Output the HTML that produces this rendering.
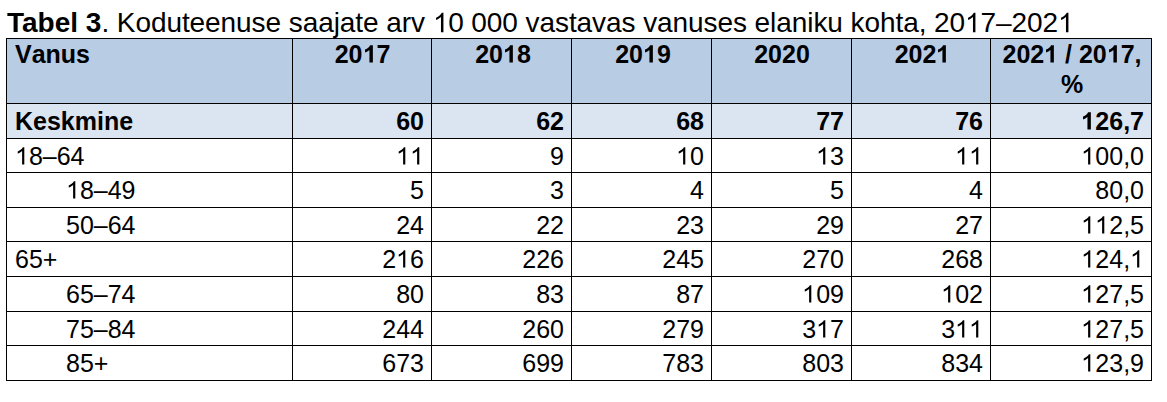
<!DOCTYPE html>
<html><head><meta charset="utf-8"><style>
html,body{margin:0;padding:0;background:#fff;width:1167px;height:402px;overflow:hidden;position:relative}
body{font-family:"Liberation Sans",sans-serif;color:#000}
.nk{font-kerning:none}
.t{position:absolute;white-space:nowrap;line-height:2em;height:2em}
.t span{display:inline-block;vertical-align:baseline}
.bg{position:absolute}
.h{position:absolute;height:1px;background:#000}
.v{position:absolute;width:1px;background:#000}
.b{font-weight:bold}
.one{width:0.55615em;height:1.1172em;vertical-align:-0.2119em;fill:#000;overflow:visible}
</style></head><body>

<div class="bg" style="left:6px;top:38px;width:1145px;height:65px;background:#B8CCE4"></div>
<div class="bg" style="left:6px;top:103px;width:1145px;height:35px;background:#DBE5F1"></div>
<div class="t" style="left:7px;top:-5px;font-size:28px"><b>Tabel 3</b><span style="letter-spacing:-0.075px">. Koduteenuse saajate arv <svg class="one" viewBox="0 -1854 1139 2288"><path transform="scale(1 0.9715)" d="M763 0H583V-1147Q518 -1085 412 -1023Q306 -961 223 -930V-1104Q374 -1175 486 -1276Q598 -1377 647 -1472H763Z"/></svg>0 000 vastavas vanuses elaniku kohta, 20<svg class="one" viewBox="0 -1854 1139 2288"><path transform="scale(1 0.9715)" d="M763 0H583V-1147Q518 -1085 412 -1023Q306 -961 223 -930V-1104Q374 -1175 486 -1276Q598 -1377 647 -1472H763Z"/></svg>7–202<svg class="one" viewBox="0 -1854 1139 2288"><path transform="scale(1 0.9715)" d="M763 0H583V-1147Q518 -1085 412 -1023Q306 -961 223 -930V-1104Q374 -1175 486 -1276Q598 -1377 647 -1472H763Z"/></svg></span></div>
<div class="t b nk" style="left:15px;top:29px;font-size:25px">Vanus</div>
<div class="t b nk" style="left:62.5px;width:600px;text-align:center;top:29px;font-size:25px">20<svg class="one" viewBox="0 -1854 1139 2288"><path transform="scale(1 0.9715)" d="M809 0H528V-1059Q374 -915 165 -846V-1101Q275 -1137 404 -1238Q533 -1339 581 -1472H809Z"/></svg>7</div>
<div class="t b nk" style="left:203.0px;width:600px;text-align:center;top:29px;font-size:25px">20<svg class="one" viewBox="0 -1854 1139 2288"><path transform="scale(1 0.9715)" d="M809 0H528V-1059Q374 -915 165 -846V-1101Q275 -1137 404 -1238Q533 -1339 581 -1472H809Z"/></svg>8</div>
<div class="t b nk" style="left:343.0px;width:600px;text-align:center;top:29px;font-size:25px">20<svg class="one" viewBox="0 -1854 1139 2288"><path transform="scale(1 0.9715)" d="M809 0H528V-1059Q374 -915 165 -846V-1101Q275 -1137 404 -1238Q533 -1339 581 -1472H809Z"/></svg>9</div>
<div class="t b nk" style="left:482.0px;width:600px;text-align:center;top:29px;font-size:25px">2020</div>
<div class="t b nk" style="left:622.5px;width:600px;text-align:center;top:29px;font-size:25px">202<svg class="one" viewBox="0 -1854 1139 2288"><path transform="scale(1 0.9715)" d="M809 0H528V-1059Q374 -915 165 -846V-1101Q275 -1137 404 -1238Q533 -1339 581 -1472H809Z"/></svg></div>
<div class="t b nk" style="left:772.0px;width:600px;text-align:center;top:29px;font-size:25px">202<svg class="one" viewBox="0 -1854 1139 2288"><path transform="scale(1 0.9715)" d="M809 0H528V-1059Q374 -915 165 -846V-1101Q275 -1137 404 -1238Q533 -1339 581 -1472H809Z"/></svg> / 20<svg class="one" viewBox="0 -1854 1139 2288"><path transform="scale(1 0.9715)" d="M809 0H528V-1059Q374 -915 165 -846V-1101Q275 -1137 404 -1238Q533 -1339 581 -1472H809Z"/></svg>7,</div>
<div class="t b nk" style="left:772.0px;width:600px;text-align:center;top:59px;font-size:25px">%</div>
<div class="t b nk" style="left:15px;top:96px;font-size:25px">Keskmine</div>
<div class="t b nk" style="right:743px;top:96px;font-size:25px">60</div>
<div class="t b nk" style="right:603px;top:96px;font-size:25px">62</div>
<div class="t b nk" style="right:463px;top:96px;font-size:25px">68</div>
<div class="t b nk" style="right:323px;top:96px;font-size:25px">77</div>
<div class="t b nk" style="right:184px;top:96px;font-size:25px">76</div>
<div class="t b nk" style="right:23px;top:96px;font-size:25px"><svg class="one" viewBox="0 -1854 1139 2288"><path transform="scale(1 0.9715)" d="M809 0H528V-1059Q374 -915 165 -846V-1101Q275 -1137 404 -1238Q533 -1339 581 -1472H809Z"/></svg>26,7</div>
<div class="t nk" style="left:15px;top:131px;font-size:25px"><svg class="one" viewBox="0 -1854 1139 2288"><path transform="scale(1 0.9715)" d="M763 0H583V-1147Q518 -1085 412 -1023Q306 -961 223 -930V-1104Q374 -1175 486 -1276Q598 -1377 647 -1472H763Z"/></svg>8–64</div>
<div class="t nk" style="right:743px;top:131px;font-size:25px"><svg class="one" viewBox="0 -1854 1139 2288"><path transform="scale(1 0.9715)" d="M763 0H583V-1147Q518 -1085 412 -1023Q306 -961 223 -930V-1104Q374 -1175 486 -1276Q598 -1377 647 -1472H763Z"/></svg><svg class="one" viewBox="0 -1854 1139 2288"><path transform="scale(1 0.9715)" d="M763 0H583V-1147Q518 -1085 412 -1023Q306 -961 223 -930V-1104Q374 -1175 486 -1276Q598 -1377 647 -1472H763Z"/></svg></div>
<div class="t nk" style="right:603px;top:131px;font-size:25px">9</div>
<div class="t nk" style="right:463px;top:131px;font-size:25px"><svg class="one" viewBox="0 -1854 1139 2288"><path transform="scale(1 0.9715)" d="M763 0H583V-1147Q518 -1085 412 -1023Q306 -961 223 -930V-1104Q374 -1175 486 -1276Q598 -1377 647 -1472H763Z"/></svg>0</div>
<div class="t nk" style="right:323px;top:131px;font-size:25px"><svg class="one" viewBox="0 -1854 1139 2288"><path transform="scale(1 0.9715)" d="M763 0H583V-1147Q518 -1085 412 -1023Q306 -961 223 -930V-1104Q374 -1175 486 -1276Q598 -1377 647 -1472H763Z"/></svg>3</div>
<div class="t nk" style="right:184px;top:131px;font-size:25px"><svg class="one" viewBox="0 -1854 1139 2288"><path transform="scale(1 0.9715)" d="M763 0H583V-1147Q518 -1085 412 -1023Q306 -961 223 -930V-1104Q374 -1175 486 -1276Q598 -1377 647 -1472H763Z"/></svg><svg class="one" viewBox="0 -1854 1139 2288"><path transform="scale(1 0.9715)" d="M763 0H583V-1147Q518 -1085 412 -1023Q306 -961 223 -930V-1104Q374 -1175 486 -1276Q598 -1377 647 -1472H763Z"/></svg></div>
<div class="t nk" style="right:23px;top:131px;font-size:25px"><svg class="one" viewBox="0 -1854 1139 2288"><path transform="scale(1 0.9715)" d="M763 0H583V-1147Q518 -1085 412 -1023Q306 -961 223 -930V-1104Q374 -1175 486 -1276Q598 -1377 647 -1472H763Z"/></svg>00,0</div>
<div class="t nk" style="left:66px;top:165px;font-size:25px"><svg class="one" viewBox="0 -1854 1139 2288"><path transform="scale(1 0.9715)" d="M763 0H583V-1147Q518 -1085 412 -1023Q306 -961 223 -930V-1104Q374 -1175 486 -1276Q598 -1377 647 -1472H763Z"/></svg>8–49</div>
<div class="t nk" style="right:743px;top:165px;font-size:25px">5</div>
<div class="t nk" style="right:603px;top:165px;font-size:25px">3</div>
<div class="t nk" style="right:463px;top:165px;font-size:25px">4</div>
<div class="t nk" style="right:323px;top:165px;font-size:25px">5</div>
<div class="t nk" style="right:184px;top:165px;font-size:25px">4</div>
<div class="t nk" style="right:23px;top:165px;font-size:25px">80,0</div>
<div class="t nk" style="left:66px;top:200px;font-size:25px">50–64</div>
<div class="t nk" style="right:743px;top:200px;font-size:25px">24</div>
<div class="t nk" style="right:603px;top:200px;font-size:25px">22</div>
<div class="t nk" style="right:463px;top:200px;font-size:25px">23</div>
<div class="t nk" style="right:323px;top:200px;font-size:25px">29</div>
<div class="t nk" style="right:184px;top:200px;font-size:25px">27</div>
<div class="t nk" style="right:23px;top:200px;font-size:25px"><svg class="one" viewBox="0 -1854 1139 2288"><path transform="scale(1 0.9715)" d="M763 0H583V-1147Q518 -1085 412 -1023Q306 -961 223 -930V-1104Q374 -1175 486 -1276Q598 -1377 647 -1472H763Z"/></svg><svg class="one" viewBox="0 -1854 1139 2288"><path transform="scale(1 0.9715)" d="M763 0H583V-1147Q518 -1085 412 -1023Q306 -961 223 -930V-1104Q374 -1175 486 -1276Q598 -1377 647 -1472H763Z"/></svg>2,5</div>
<div class="t nk" style="left:15px;top:234px;font-size:25px">65+</div>
<div class="t nk" style="right:743px;top:234px;font-size:25px">2<svg class="one" viewBox="0 -1854 1139 2288"><path transform="scale(1 0.9715)" d="M763 0H583V-1147Q518 -1085 412 -1023Q306 -961 223 -930V-1104Q374 -1175 486 -1276Q598 -1377 647 -1472H763Z"/></svg>6</div>
<div class="t nk" style="right:603px;top:234px;font-size:25px">226</div>
<div class="t nk" style="right:463px;top:234px;font-size:25px">245</div>
<div class="t nk" style="right:323px;top:234px;font-size:25px">270</div>
<div class="t nk" style="right:184px;top:234px;font-size:25px">268</div>
<div class="t nk" style="right:23px;top:234px;font-size:25px"><svg class="one" viewBox="0 -1854 1139 2288"><path transform="scale(1 0.9715)" d="M763 0H583V-1147Q518 -1085 412 -1023Q306 -961 223 -930V-1104Q374 -1175 486 -1276Q598 -1377 647 -1472H763Z"/></svg>24,<svg class="one" viewBox="0 -1854 1139 2288"><path transform="scale(1 0.9715)" d="M763 0H583V-1147Q518 -1085 412 -1023Q306 -961 223 -930V-1104Q374 -1175 486 -1276Q598 -1377 647 -1472H763Z"/></svg></div>
<div class="t nk" style="left:66px;top:269px;font-size:25px">65–74</div>
<div class="t nk" style="right:743px;top:269px;font-size:25px">80</div>
<div class="t nk" style="right:603px;top:269px;font-size:25px">83</div>
<div class="t nk" style="right:463px;top:269px;font-size:25px">87</div>
<div class="t nk" style="right:323px;top:269px;font-size:25px"><svg class="one" viewBox="0 -1854 1139 2288"><path transform="scale(1 0.9715)" d="M763 0H583V-1147Q518 -1085 412 -1023Q306 -961 223 -930V-1104Q374 -1175 486 -1276Q598 -1377 647 -1472H763Z"/></svg>09</div>
<div class="t nk" style="right:184px;top:269px;font-size:25px"><svg class="one" viewBox="0 -1854 1139 2288"><path transform="scale(1 0.9715)" d="M763 0H583V-1147Q518 -1085 412 -1023Q306 -961 223 -930V-1104Q374 -1175 486 -1276Q598 -1377 647 -1472H763Z"/></svg>02</div>
<div class="t nk" style="right:23px;top:269px;font-size:25px"><svg class="one" viewBox="0 -1854 1139 2288"><path transform="scale(1 0.9715)" d="M763 0H583V-1147Q518 -1085 412 -1023Q306 -961 223 -930V-1104Q374 -1175 486 -1276Q598 -1377 647 -1472H763Z"/></svg>27,5</div>
<div class="t nk" style="left:66px;top:304px;font-size:25px">75–84</div>
<div class="t nk" style="right:743px;top:304px;font-size:25px">244</div>
<div class="t nk" style="right:603px;top:304px;font-size:25px">260</div>
<div class="t nk" style="right:463px;top:304px;font-size:25px">279</div>
<div class="t nk" style="right:323px;top:304px;font-size:25px">3<svg class="one" viewBox="0 -1854 1139 2288"><path transform="scale(1 0.9715)" d="M763 0H583V-1147Q518 -1085 412 -1023Q306 -961 223 -930V-1104Q374 -1175 486 -1276Q598 -1377 647 -1472H763Z"/></svg>7</div>
<div class="t nk" style="right:184px;top:304px;font-size:25px">3<svg class="one" viewBox="0 -1854 1139 2288"><path transform="scale(1 0.9715)" d="M763 0H583V-1147Q518 -1085 412 -1023Q306 -961 223 -930V-1104Q374 -1175 486 -1276Q598 -1377 647 -1472H763Z"/></svg><svg class="one" viewBox="0 -1854 1139 2288"><path transform="scale(1 0.9715)" d="M763 0H583V-1147Q518 -1085 412 -1023Q306 -961 223 -930V-1104Q374 -1175 486 -1276Q598 -1377 647 -1472H763Z"/></svg></div>
<div class="t nk" style="right:23px;top:304px;font-size:25px"><svg class="one" viewBox="0 -1854 1139 2288"><path transform="scale(1 0.9715)" d="M763 0H583V-1147Q518 -1085 412 -1023Q306 -961 223 -930V-1104Q374 -1175 486 -1276Q598 -1377 647 -1472H763Z"/></svg>27,5</div>
<div class="t nk" style="left:66px;top:338px;font-size:25px">85+</div>
<div class="t nk" style="right:743px;top:338px;font-size:25px">673</div>
<div class="t nk" style="right:603px;top:338px;font-size:25px">699</div>
<div class="t nk" style="right:463px;top:338px;font-size:25px">783</div>
<div class="t nk" style="right:323px;top:338px;font-size:25px">803</div>
<div class="t nk" style="right:184px;top:338px;font-size:25px">834</div>
<div class="t nk" style="right:23px;top:338px;font-size:25px"><svg class="one" viewBox="0 -1854 1139 2288"><path transform="scale(1 0.9715)" d="M763 0H583V-1147Q518 -1085 412 -1023Q306 -961 223 -930V-1104Q374 -1175 486 -1276Q598 -1377 647 -1472H763Z"/></svg>23,9</div>
<div class="h" style="left:6px;top:38px;width:1146px"></div>
<div class="h" style="left:6px;top:103px;width:1146px"></div>
<div class="h" style="left:6px;top:138px;width:1146px"></div>
<div class="h" style="left:6px;top:172px;width:1146px"></div>
<div class="h" style="left:6px;top:207px;width:1146px"></div>
<div class="h" style="left:6px;top:241px;width:1146px"></div>
<div class="h" style="left:6px;top:276px;width:1146px"></div>
<div class="h" style="left:6px;top:311px;width:1146px"></div>
<div class="h" style="left:6px;top:345px;width:1146px"></div>
<div class="h" style="left:6px;top:380px;width:1146px"></div>
<div class="v" style="left:6px;top:38px;height:343px"></div>
<div class="v" style="left:292px;top:38px;height:343px"></div>
<div class="v" style="left:431px;top:38px;height:343px"></div>
<div class="v" style="left:571px;top:38px;height:343px"></div>
<div class="v" style="left:711px;top:38px;height:343px"></div>
<div class="v" style="left:851px;top:38px;height:343px"></div>
<div class="v" style="left:990px;top:38px;height:343px"></div>
<div class="v" style="left:1151px;top:38px;height:343px"></div>
</body></html>
